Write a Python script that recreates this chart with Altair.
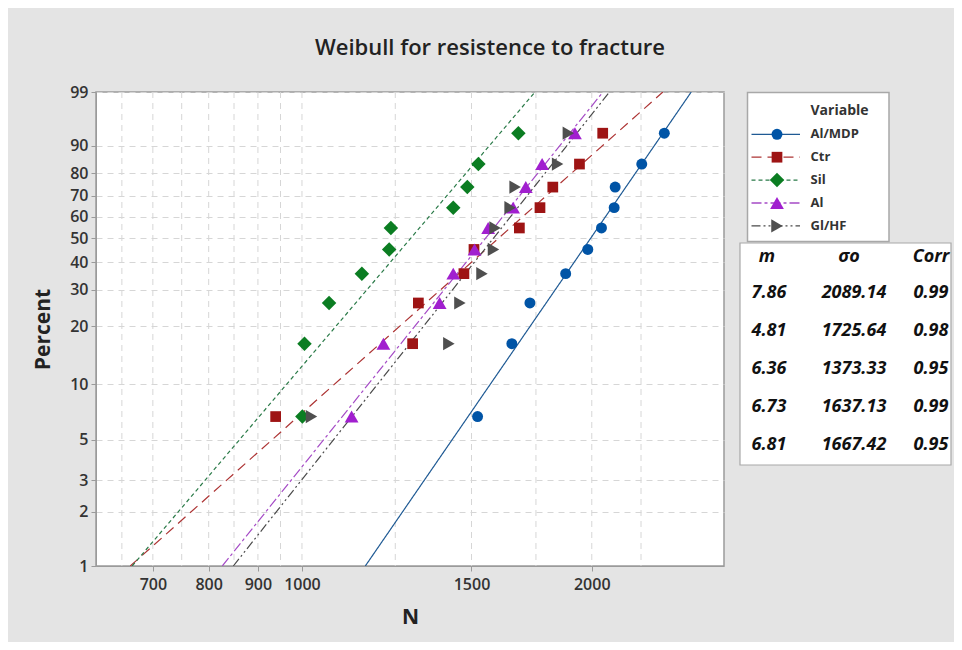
import math
import altair as alt
import pandas as pd

# ---------------- data ----------------
series = ["Al/MDP", "Ctr", "Sil", "Al", "Gl/HF"]
ranks = [6.7, 16.3, 26.0, 35.6, 45.2, 54.8, 64.4, 74.0, 83.7, 93.3]  # median ranks, %
n_almdp = [1522, 1652, 1725, 1879, 1981, 2047, 2110, 2115, 2254, 2379]
n_ctr = [939, 1303, 1321, 1473, 1509, 1682, 1767, 1822, 1942, 2053]
n_sil = [1001, 1006, 1067, 1154, 1232, 1237, 1436, 1485, 1525, 1678]
n_al = [1126, 1215, 1390, 1436, 1511, 1561, 1657, 1708, 1776, 1921]
n_glhf = [1023, 1421, 1459, 1538, 1581, 1587, 1645, 1665, 1843, 1891]
m_vals = [7.86, 4.81, 6.36, 6.73, 6.81]
sigma_vals = [2089.14, 1725.64, 1373.33, 1637.13, 1667.42]
corr_vals = [0.99, 0.98, 0.95, 0.99, 0.95]
header_labels = ["m", "σo", "Corr"]
pct_ticks = [1, 2, 3, 5, 10, 20, 30, 40, 50, 60, 70, 80, 90, 99]
x_labels = [700, 800, 900, 1000, 1500, 2000]
x_grid = [650, 700, 750, 800, 850, 900, 950, 1000, 1250, 1500, 1750, 2000, 2250]
x_domain = [611, 2744]
pct_domain = [1, 99]

# ---------------- tables built from the arrays ----------------
all_n = [n_almdp, n_ctr, n_sil, n_al, n_glhf]
pts = pd.DataFrame(
    [{"series": s, "N": v, "pct": p} for s, vals in zip(series, all_n) for v, p in zip(vals, ranks)]
)


def wb(p):
    return math.log(-math.log(1 - p / 100.0))


# fitted Weibull lines from the displayed m and sigma0 (two ends on the 1%..99% range)
fit = pd.DataFrame(
    [
        {"series": s, "pct": p, "N": sg * math.exp(wb(p) / m)}
        for s, m, sg in zip(series, m_vals, sigma_vals)
        for p in pct_domain
    ]
)
info = pd.DataFrame(
    {"series": series, "idx": list(range(len(series))), "m": m_vals, "sigma": sigma_vals, "corr": corr_vals}
)
head = pd.DataFrame({"label": header_labels, "idx": list(range(len(header_labels)))})
grid = pd.DataFrame({"g": x_grid})
one = pd.DataFrame({"k": [0]})

F = "Open Sans"
colors = ["#0054a6", "#9e1414", "#0b7d22", "#a11fcf", "#4f4f4f"]
line_colors = ["#1f5a94", "#ad3434", "#2a7a48", "#a54bc6", "#4a4a4a"]
shapes = ["circle", "square", "diamond", "triangle-up", "triangle-right"]
sizes = [120, 115, 210, 190, 175]
dashes = [[1, 0], [10, 6], [4, 3], [10, 3, 3, 3], [9, 3, 2, 3, 2, 3]]
size_expr = f"{sizes}[indexof({series}, datum.series)]"

W, H = 628, 474

xscale = alt.Scale(type="log", domain=x_domain, nice=False)
xaxis = alt.Axis(
    values=x_labels, format="d", title="N", grid=False,
    labelFont=F, labelFontSize=16, labelFontWeight=600, labelColor="#333333",
    labelPadding=5, tickSize=5, tickColor="#9a9a9a", domainColor="#9a9a9a",
    titleFont=F, titleFontSize=21, titleFontWeight="bold", titleColor="#222222",
    titleY=51, titleBaseline="middle",
)
yscale = alt.Scale(domain=[wb(pct_domain[0]), wb(pct_domain[1])], nice=False, zero=False)
yaxis = alt.Axis(
    values=[wb(p) for p in pct_ticks],
    labelExpr="format(100*(1-exp(-exp(datum.value))), '.0f')",
    title="Percent", grid=True, gridDash=[6, 5], gridColor="#d6d6d6", gridWidth=1,
    labelFont=F, labelFontSize=16, labelFontWeight=600, labelColor="#333333",
    labelPadding=3, tickSize=5, tickColor="#9a9a9a", domainColor="#9a9a9a",
    titleFont=F, titleFontSize=21, titleFontWeight="bold", titleColor="#222222",
    titleX=-53, titleY=H / 2, titleBaseline="middle",
)


def X(f):
    return alt.X(f"{f}:Q", scale=xscale, axis=xaxis)


Y = alt.Y("w:Q", scale=yscale, axis=yaxis)
wcalc = "log(-log(1 - datum.pct/100))"

color_m = alt.Color("series:N", scale=alt.Scale(domain=series, range=colors), legend=None)
color_l = alt.Stroke("series:N", scale=alt.Scale(domain=series, range=line_colors), legend=None)
shape = alt.Shape("series:N", scale=alt.Scale(domain=series, range=shapes), legend=None)
size = alt.Size("sz:Q", scale=None, legend=None)
dash = alt.StrokeDash("series:N", scale=alt.Scale(domain=series, range=dashes), legend=None)

grid_layer = alt.Chart(grid).mark_rule(color="#d6d6d6", strokeDash=[6, 5], strokeWidth=1).encode(x=X("g"))

lines = (
    alt.Chart(fit)
    .transform_calculate(w=wcalc)
    .mark_line(strokeWidth=1.2, clip=True)
    .encode(x=X("N"), y=Y, stroke=color_l, strokeDash=dash, detail="series:N")
)

points = (
    alt.Chart(pts)
    .transform_calculate(w=wcalc, sz=size_expr)
    .mark_point(filled=True, opacity=1, clip=True)
    .encode(x=X("N"), y=Y, color=color_m, shape=shape, size=size)
)

# ---------------- legend ----------------
ly = alt.Y("ly:Q", scale=None, axis=None)
leg_box = alt.Chart(one).mark_rect(fill="white", stroke="#a8a8a8", strokeWidth=1.5).encode(
    x=alt.value(651.5), x2=alt.value(793), y=alt.value(0.5), y2=alt.value(149.5)
)
leg_title = alt.Chart(one).mark_text(
    text="Variable", align="left", baseline="middle", font=F, fontSize=14, fontWeight="bold", color="#333333"
).encode(x=alt.value(714.5), y=alt.value(18.5))
leg_rule = (
    alt.Chart(info).transform_calculate(ly="42.3 + datum.idx*22.9")
    .mark_rule(strokeWidth=1.3)
    .encode(x=alt.value(655.5), x2=alt.value(704), y=ly, stroke=color_l, strokeDash=dash)
)
leg_pt = (
    alt.Chart(info).transform_calculate(ly="42.3 + datum.idx*22.9", sz=size_expr)
    .mark_point(filled=True, opacity=1)
    .encode(x=alt.value(681), y=ly, color=color_m, shape=shape, size=size)
)
leg_txt = (
    alt.Chart(info).transform_calculate(ly="42.3 + datum.idx*22.9")
    .mark_text(align="left", baseline="middle", font=F, fontSize=13, fontWeight="bold", color="#333333")
    .encode(x=alt.value(714.5), y=ly, text="series:N")
)

# ---------------- parameter table ----------------
tab_box = alt.Chart(one).mark_rect(fill="white", stroke="#a8a8a8", strokeWidth=1.2).encode(
    x=alt.value(644), x2=alt.value(855), y=alt.value(151), y2=alt.value(373)
)
tfont = dict(font=F, fontSize=18, fontWeight="bold", fontStyle="italic", color="#111111", baseline="middle", align="center")
tab_head = (
    alt.Chart(head).transform_calculate(hx="671 + datum.idx*82")
    .mark_text(**tfont)
    .encode(x=alt.X("hx:Q", scale=None, axis=None), y=alt.value(164.5), text="label:N")
)
ry = alt.Y("ry:Q", scale=None, axis=None)


def col(field, xpos):
    return (
        alt.Chart(info).transform_calculate(ry="201 + datum.idx*37.9")
        .mark_text(**tfont)
        .encode(x=alt.value(xpos), y=ry, text=alt.Text(f"{field}:Q", format=".2f"))
    )


chart = (
    alt.layer(
        grid_layer, lines, points,
        leg_box, leg_title, leg_rule, leg_pt, leg_txt,
        tab_box, tab_head, col("m", 673), col("sigma", 758), col("corr", 835),
    )
    .properties(
        width=W, height=H,
        autosize=alt.AutoSizeParams(type="none"),
        padding={"left": 88, "top": 84, "right": 230, "bottom": 76},
        background="#e4e4e4",
        title=alt.TitleParams(
            "Weibull for resistence to fracture", font=F, fontSize=22, fontWeight=600,
            color="#222222", anchor="middle", frame="group", dx=80, offset=24,
        ),
    )
    .configure_view(fill="white", stroke="#9a9a9a", strokeWidth=1.5)
)

chart.save("out.html", embed_options={"renderer": "svg", "actions": False})
